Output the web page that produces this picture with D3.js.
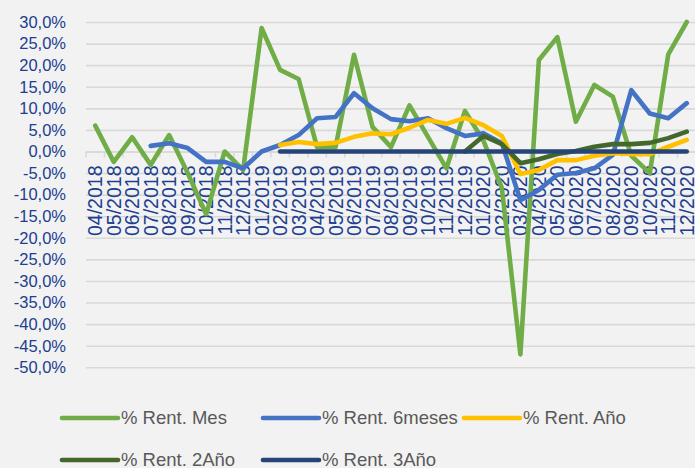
<!DOCTYPE html>
<html>
<head>
<meta charset="utf-8">
<script src="https://cdn.jsdelivr.net/npm/d3@7"></script>
<style>
  body { margin: 0; background: #f2f2f2; }
  svg { display: block; font-family: "Liberation Sans", Arial, sans-serif; }
</style>
</head>
<body>
<div id="chart"></div>
<script>
const months = [
  "04/2018","05/2018","06/2018","07/2018","08/2018","09/2018","10/2018","11/2018","12/2018",
  "01/2019","02/2019","03/2019","04/2019","05/2019","06/2019","07/2019","08/2019","09/2019","10/2019","11/2019","12/2019",
  "01/2020","02/2020","03/2020","04/2020","05/2020","06/2020","07/2020","08/2020","09/2020","10/2020","11/2020","12/2020"
];

const rentMes = [6.0, -2.4, 3.3, -3.1, 3.8, -5.0, -14.5, 0.0, -4.3,
  28.6, 18.9, 16.8, 1.0, 1.0, 22.4, 5.7, 1.0, 10.7, 3.4, -3.9, 9.4,
  2.5, -8.5, -47.0, 21.2, 26.5, 6.9, 15.4, 12.7, -1.0, -5.0, 22.5, 30.0];

const rent6meses = [null, null, null, 1.3, 1.9, 0.8, -2.4, -2.4, -3.9,
  0.0, 1.5, 3.8, 7.7, 8.0, 13.5, 10.0, 7.5, 7.0, 7.7, 5.4, 3.6,
  4.2, 1.9, -11.3, -8.9, -5.4, -5.0, -3.9, -0.8, 14.2, 8.8, 7.7, 11.2];

const rentAno = [null, null, null, null, null, null, null, null, null,
  null, 1.5, 2.2, 1.7, 2.0, 3.4, 4.2, 4.0, 5.5, 7.3, 6.4, 7.8,
  6.1, 3.6, -5.2, -4.3, -2.0, -2.0, -1.0, -0.4, -0.6, -0.6, 1.1, 2.7];

const rent2Ano = [null, null, null, null, null, null, null, null, null,
  null, null, null, null, null, null, null, null, null, null, null, 0.0,
  3.6, 1.7, -2.7, -1.8, -0.6, 0.1, 1.1, 1.7, 1.7, 2.0, 3.1, 4.6];

const rent3Ano = [null, null, null, null, null, null, null, null, null,
  null, 0, 0, 0, 0, 0, 0, 0, 0, 0, 0, 0,
  0, 0, 0, 0, 0, 0, 0, 0, 0, 0, 0, 0];

const yTicks = d3.range(-50, 31, 5);

const seriesNames = ["% Rent. Mes", "% Rent. 6meses", "% Rent. Año", "% Rent. 2Año", "% Rent. 3Año"];
const seriesColors = ["#70ad47", "#4472c4", "#ffc000", "#43682b", "#264478"];
const seriesValues = [rentMes, rent6meses, rentAno, rent2Ano, rent3Ano];

const width = 695, height = 468;
const plot = { left: 86, top: 22, right: 696, bottom: 367.3 };

const svg = d3.select("#chart").append("svg")
  .attr("width", width)
  .attr("height", height);

svg.append("rect").attr("width", width).attr("height", height).attr("fill", "#f2f2f2");

const x = d3.scaleBand().domain(months).range([plot.left, plot.right]).padding(0);
const y = d3.scaleLinear().domain([-50, 30]).range([plot.bottom, plot.top]);

const esLocale = d3.formatLocale({ decimal: ",", thousands: ".", grouping: [3], currency: ["", "€"], minus: "-" });
const fmt = esLocale.format(".1f");

// gridlines
svg.append("g")
  .attr("transform", `translate(${plot.left},0)`)
  .call(d3.axisLeft(y).tickValues(yTicks).tickSize(-(plot.right - plot.left)).tickFormat(""))
  .call(g => g.select(".domain").remove())
  .call(g => g.selectAll("line").attr("stroke", "#d9d9d9").attr("stroke-width", 1.6));

// y labels
svg.append("g")
  .attr("transform", `translate(${plot.left},0)`)
  .call(d3.axisLeft(y).tickValues(yTicks).tickSize(0).tickPadding(20).tickFormat(d => fmt(d) + "%"))
  .call(g => g.select(".domain").remove())
  .call(g => g.selectAll("text")
    .attr("fill", "#203e8f")
    .style("font-size", "16.5px"));

// x axis at zero
const y0 = y(0);
const xAxis = svg.append("g")
  .attr("transform", `translate(0,${y0})`)
  .call(d3.axisBottom(x).tickSize(0))
  .call(g => g.select(".domain").attr("stroke", "#d9d9d9").attr("stroke-width", 1.6));

xAxis.selectAll(".tick-mark")
  .data(months.concat(["end"]))
  .enter()
  .append("line")
  .attr("class", "tick-mark")
  .attr("x1", (d, i) => i < months.length ? x(d) : plot.right)
  .attr("x2", (d, i) => i < months.length ? x(d) : plot.right)
  .attr("y1", 0)
  .attr("y2", 6)
  .attr("stroke", "#d9d9d9")
  .attr("stroke-width", 1.6);

xAxis.selectAll(".tick text")
  .attr("transform", "rotate(-90)")
  .attr("text-anchor", "end")
  .attr("x", -14)
  .attr("y", 0)
  .attr("dy", "0.36em")
  .attr("fill", "#203e8f")
  .style("font-size", "19.5px");

// lines
const line = d3.line()
  .defined(d => d.value !== null)
  .x(d => x(d.month) + x.bandwidth() / 2)
  .y(d => y(d.value));

seriesValues.forEach((vals, si) => {
  const pts = months.map((m, i) => ({ month: m, value: vals[i] }));
  svg.append("path")
    .datum(pts)
    .attr("fill", "none")
    .attr("stroke", seriesColors[si])
    .attr("stroke-width", 4.6)
    .attr("stroke-linejoin", "round")
    .attr("stroke-linecap", "round")
    .attr("d", line);
});

// legend
const legendPos = [[62, 418], [263, 418], [464, 418], [62, 460], [263, 460]];
const legend = svg.append("g");
seriesNames.forEach((name, i) => {
  const [lx, ly] = legendPos[i];
  legend.append("line")
    .attr("x1", lx).attr("x2", lx + 56)
    .attr("y1", ly).attr("y2", ly)
    .attr("stroke", seriesColors[i])
    .attr("stroke-width", 4.6)
    .attr("stroke-linecap", "round");
  legend.append("text")
    .attr("x", lx + 59)
    .attr("y", ly)
    .attr("dy", "0.35em")
    .attr("fill", "#595959")
    .style("font-size", "18.5px")
    .text(name);
});
</script>
</body>
</html>
